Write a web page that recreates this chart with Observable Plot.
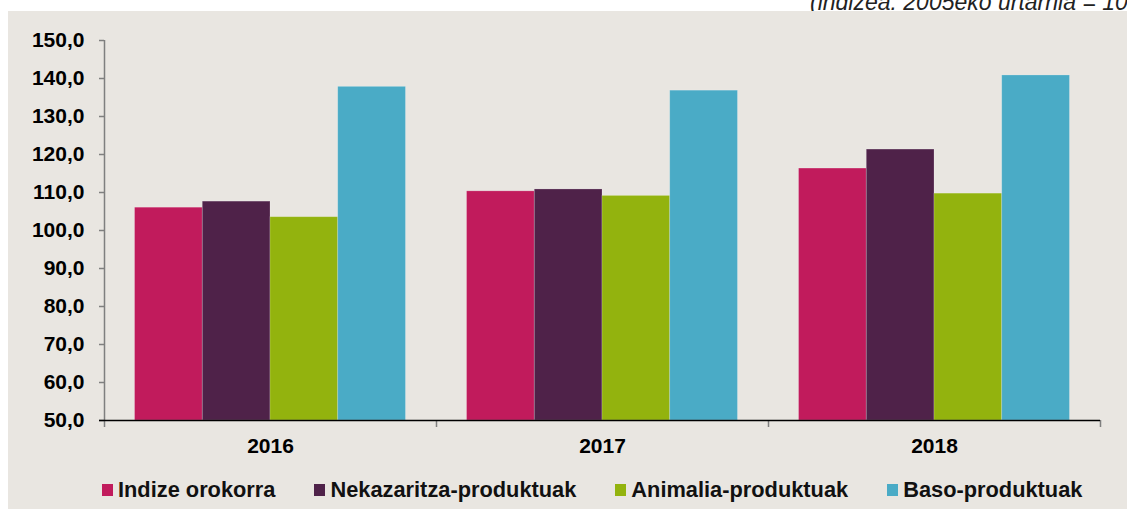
<!DOCTYPE html>
<html>
<head>
<meta charset="utf-8">
<script src="https://cdn.jsdelivr.net/npm/d3@7"></script>
<script src="https://cdn.jsdelivr.net/npm/@observablehq/plot@0.6"></script>
<style>
  html, body { margin: 0; padding: 0; background: #e9e6e1; width: 100%; height: 100%; overflow: hidden; }
  #page { position: relative; width: 1127px; height: 509px; }
  #top { position: absolute; left: 0; top: 0; width: 1127px; height: 11px; overflow: hidden; background: #ffffff; }
  #top span { position: absolute; left: 810px; top: -9px; font: italic 23px "Liberation Sans", Arial, sans-serif; color: #222; white-space: nowrap; line-height: 22px; }
  #leftstrip { position: fixed; left: 0; top: 0; width: 8px; height: 100%; background: #ffffff; }
  #panel { position: absolute; left: 8px; top: 11px; width: 1119px; height: 498px; background: #e9e6e1; }
  #chart svg { display: block; }
  #legend { display: flex; align-items: center; padding-left: 94px; padding-top: 17px; font: bold 21.8px "Liberation Sans", Arial, sans-serif; color: #111; line-height: 24px; }
  .item { display: flex; align-items: center; margin-right: 39px; white-space: nowrap; }
  .sw { width: 11px; height: 12px; margin-right: 5px; display: inline-block; }
</style>
</head>
<body>
<div id="leftstrip"></div>
<div id="page">
  <div id="top"><span>(indizea: 2005eko urtarrila = 100)</span></div>
  <div id="panel">
    <div id="chart"></div>
    <div id="legend"></div>
  </div>
</div>
<script>
// ---- Data ----
const years = ["2016", "2017", "2018"];
const series = ["Indize orokorra", "Nekazaritza-produktuak", "Animalia-produktuak", "Baso-produktuak"];
const indizeOrokorra = [106.0, 110.3, 116.3];
const nekazaritzaProduktuak = [107.6, 110.8, 121.3];
const animaliaProduktuak = [103.5, 109.1, 109.7];
const basoProduktuak = [137.8, 136.8, 140.8];
const colors = ["#c11b5c", "#4f2249", "#93b30e", "#4aabc6"];
const yTicks = [50, 60, 70, 80, 90, 100, 110, 120, 130, 140, 150];

const valuesBySeries = [indizeOrokorra, nekazaritzaProduktuak, animaliaProduktuak, basoProduktuak];
const rows = [];
series.forEach((s, i) => years.forEach((y, j) => rows.push({year: y, series: s, value: valuesBySeries[i][j]})));

// ---- Layout ----
const W = 1119, H = 450, ml = 96, mr = 27, mt = 29, mb = 41;
const bw = (W - ml - mr) / years.length;
const pad = bw * 0.092;
const barW = (bw - 2 * pad) / series.length;
const axisGrey = "#7f7f7f";
const tickBottom = 48.16;

const fmt = d => d.toFixed(1).replace(".", ",");

const chart = Plot.plot({
  width: W,
  height: H,
  marginLeft: ml,
  marginRight: mr,
  marginTop: mt,
  marginBottom: mb,
  style: {background: "transparent", fontFamily: "'Liberation Sans', Arial, sans-serif", color: "#000"},
  x: {type: "band", domain: years, padding: 0, label: null},
  y: {domain: [50, 150], label: null},
  marks: [
    ...series.map((s, i) => Plot.barY(rows.filter(r => r.series === s), {
      x: "year",
      y1: 50,
      y2: "value",
      fill: colors[i],
      stroke: "#ffffff",
      strokeOpacity: 0.25,
      strokeWidth: 0.8,
      insetLeft: pad + i * barW,
      insetRight: bw - pad - (i + 1) * barW
    })),
    // vertical y-axis line (extends below as first category tick)
    Plot.ruleX([years[0]], {x: d => d, dx: -bw / 2, y1: tickBottom, y2: 150, stroke: axisGrey, strokeWidth: 1.5}),
    // category boundary ticks
    Plot.ruleX(years.slice(1), {x: d => d, dx: -bw / 2, y1: tickBottom, y2: 50, stroke: axisGrey, strokeWidth: 1.5}),
    Plot.ruleX([years[years.length - 1]], {x: d => d, dx: bw / 2, y1: tickBottom, y2: 50, stroke: axisGrey, strokeWidth: 1.5}),
    Plot.axisY(yTicks, {
      tickSize: 5, tickPadding: 15, tickFormat: fmt,
      stroke: axisGrey, strokeWidth: 1.5,
      fill: "#000", fontSize: 21, fontWeight: "bold", label: null
    }),
    Plot.ruleY([50], {stroke: "#000", strokeWidth: 1.5, insetLeft: -5}),
    Plot.axisX({tickSize: 0, tickPadding: 18, fill: "#000", fontSize: 21, fontWeight: "bold", label: null})
  ]
});
document.getElementById("chart").appendChild(chart);

// ---- Legend ----
const legend = document.getElementById("legend");
series.forEach((s, i) => {
  const item = document.createElement("div");
  item.className = "item";
  const sw = document.createElement("span");
  sw.className = "sw";
  sw.style.background = colors[i];
  const label = document.createElement("span");
  label.textContent = s;
  item.appendChild(sw);
  item.appendChild(label);
  legend.appendChild(item);
});
</script>
</body>
</html>
